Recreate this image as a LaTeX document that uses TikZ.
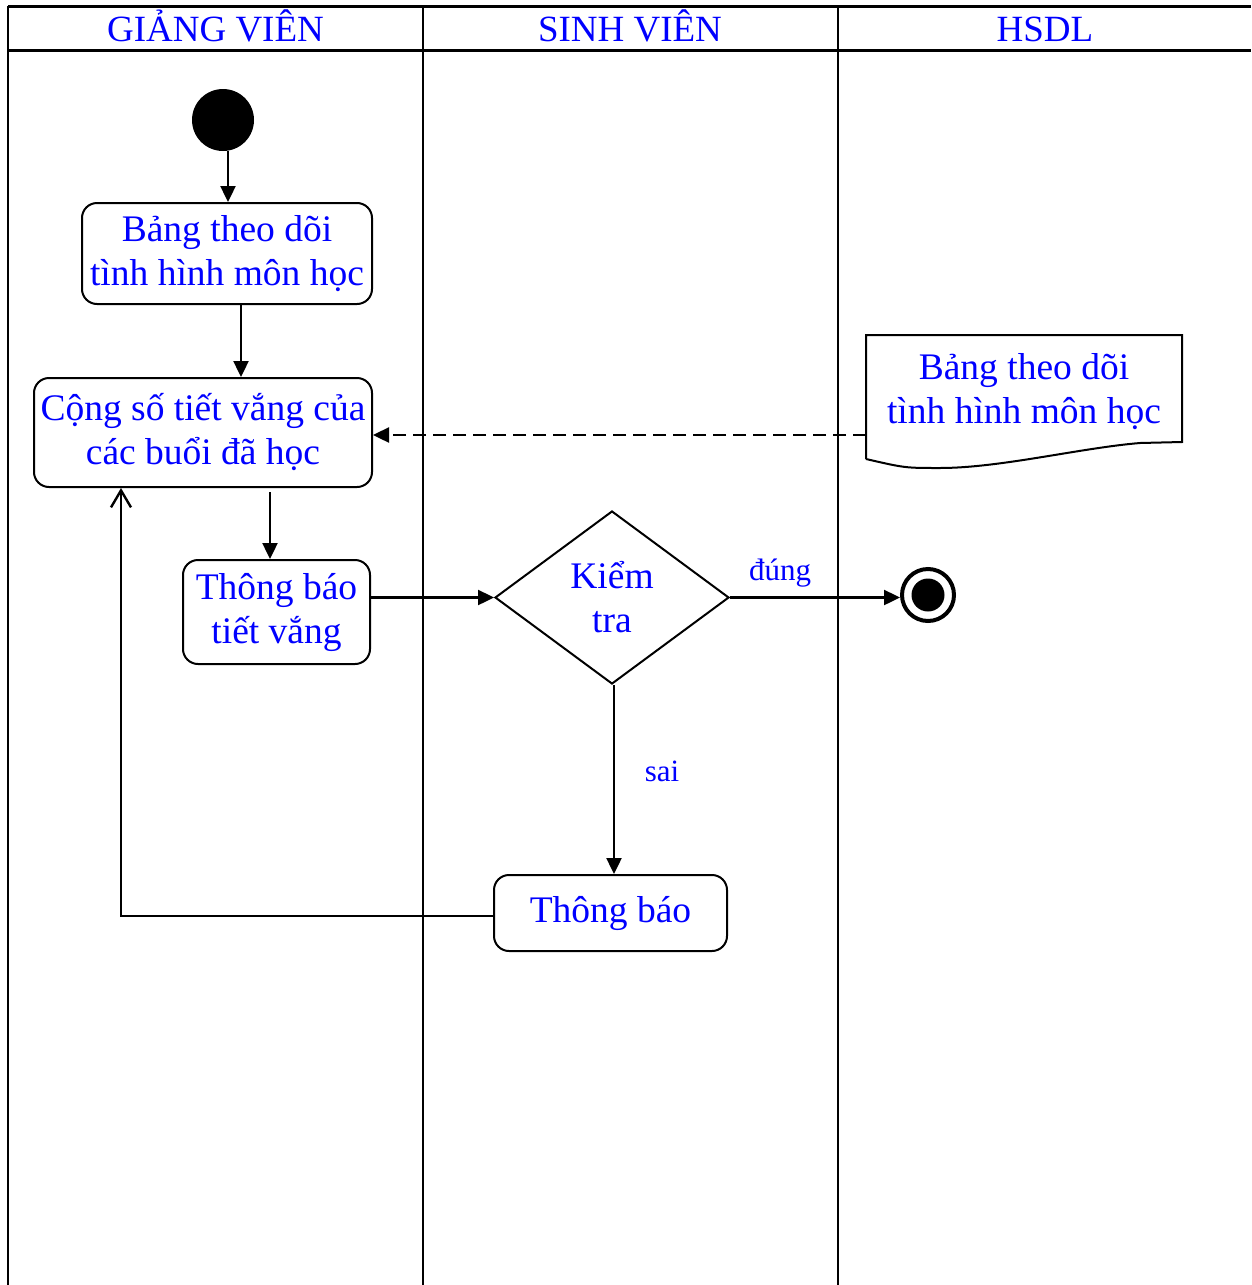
\documentclass[tikz,border=0pt]{standalone}
\usepackage{fontspec}
\setmainfont{Liberation Serif}
\usetikzlibrary{arrows.meta,shapes.geometric,calc}

\begin{document}
\begin{tikzpicture}[x=1pt,y=-1pt,
  frameline/.style={line width=2.2pt},
  headline/.style={line width=3pt},
  lanetitle/.style={text=blue, font=\fontsize{37}{44}\selectfont, anchor=base, inner sep=0pt},
  act/.style={draw, line width=2pt, rounded corners=15pt, align=center, text=blue,
              font=\fontsize{37.5}{44}\selectfont, inner sep=0pt},
  decision/.style={draw, diamond, line width=2pt, align=center, text=blue,
              font=\fontsize{37.5}{44}\selectfont, inner sep=0pt},
  guard/.style={text=blue, font=\fontsize{31}{36}\selectfont, inner sep=0pt},
  flow/.style={line width=2.4pt, -{Triangle[length=16pt,width=15pt]}},
  backflow/.style={line width=2.4pt, -{Straight Barb[length=17pt,width=20pt,line width=2.4pt]}},
  dataflow/.style={line width=2.4pt, dash pattern=on 13pt off 7pt, -{Triangle[length=16pt,width=15pt]}}
]
\useasboundingbox (0,0) rectangle (1251,1285);

% swimlane frame
\draw[headline] (8,6) -- (1251,6);
\draw[headline] (8,50) -- (1251,50);
\draw[frameline] (8,6) -- (8,1285);
\draw[frameline] (423,6) -- (423,1285);
\draw[frameline] (838,6) -- (838,1285);

\node[lanetitle] (lane1) at (215.5,41) {GIẢNG VIÊN};
\node[lanetitle] (lane2) at (630,41) {SINH VIÊN};
\node[lanetitle] (lane3) at (1045,41) {HSDL};

% start / end
\node[circle, fill=black, minimum size=62pt, inner sep=0pt] (init) at (223,120) {};
\node[circle, draw, line width=4pt, minimum size=52pt, inner sep=0pt] (fin) at (928,595) {};
\node[circle, fill=black, minimum size=33pt, inner sep=0pt] (finin) at (fin.center) {};

% activities
\node[act, minimum width=290pt, minimum height=101pt] (b1) at (227,253.5) {Bảng theo dõi\\[-0.5pt]tình hình môn học};
\node[act, minimum width=338pt, minimum height=109pt] (b2) at (203,432.5) {Cộng số tiết vắng của\\các buổi đã học};
\node[act, minimum width=187pt, minimum height=104pt] (b3) at (276.5,612) {Thông báo\\tiết vắng};
\node[act, minimum width=233pt, minimum height=76pt] (b4) at (610.5,913) {Thông báo};
\node[decision, minimum width=234pt, minimum height=173pt] (dia) at (612,597.5) {Kiểm\\tra};

% data document
\node[align=center, text=blue, font=\fontsize{37.5}{44}\selectfont, inner sep=0pt] (doc) at (1024,392) {Bảng theo dõi\\tình hình môn học};
\draw[line width=2pt] (866,459) -- (866,335) -- (1182,335) -- (1182,442)
  -- (1140,443) .. controls (1080,448) and (1000,468) .. (940,468)
  .. controls (905,468) .. (866,459);
\coordinate (docin) at (866,435);

% flows
\draw[flow] ([xshift=5pt]init.south) -- ([xshift=1pt]b1.north);
\draw[flow] ([xshift=14pt]b1.south) -- ([xshift=38pt]b2.north);
\draw[flow] ([xshift=67pt,yshift=-4pt]b2.south) -- ([xshift=-6.5pt]b3.north);
\draw[flow] (dia.west -| b3.east) -- (dia.west);
\draw[flow] (dia.east) -- (dia.east -| fin.west);
\draw[flow] ([xshift=2pt]dia.south) -- ([xshift=3.5pt]b4.north);
\draw[dataflow] (docin) -- (docin -| b2.east);
\coordinate (loopc) at (121,916);
\draw[backflow] ([yshift=-3pt]b4.west) -- (loopc) -- (loopc |- b2.south);

% guards
\node[guard, anchor=base] (gyes) at (780,580) {đúng};
\node[guard, anchor=base] (gno) at (662,781) {sai};
\end{tikzpicture}
\end{document}
